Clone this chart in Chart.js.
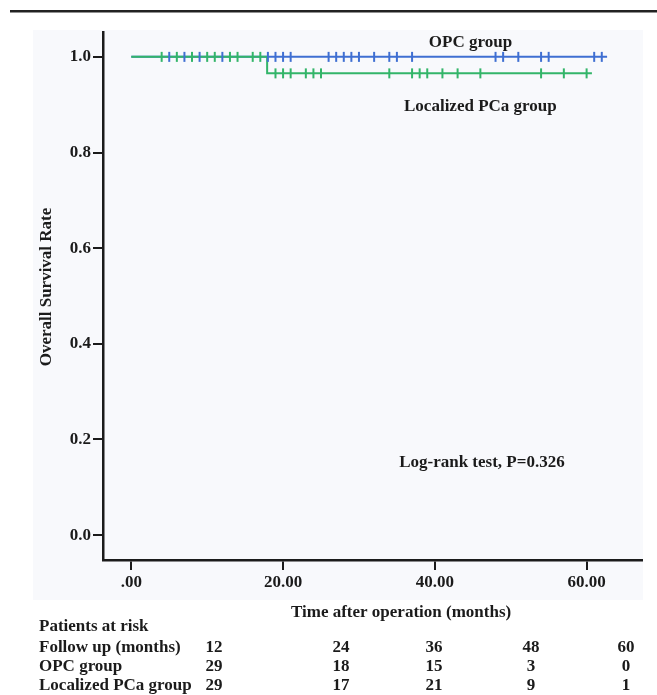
<!DOCTYPE html>
<html>
<head>
<meta charset="utf-8">
<script src="https://cdn.jsdelivr.net/npm/chart.js@4.4.1/dist/chart.umd.min.js"></script>
<style>
  html, body { margin: 0; padding: 0; background: #fff; }
  #wrap { width: 657px; height: 695px; position: relative; }
</style>
</head>
<body>
<div id="wrap"><canvas id="chart"></canvas></div>
<script>
// Kaplan-Meier steps: time after operation (months), survival rate
const opcCurve = [{ x: 0, y: 1 }, { x: 62.7, y: 1 }];
const localCurve = [{ x: 0, y: 1 }, { x: 17.9, y: 0.9655 }, { x: 60.7, y: 0.9655 }];

// censored follow-up times (months)
const opcCensored = [5, 7, 9, 12, 18, 19, 20, 21, 26, 27, 28, 29, 30, 32, 34, 35, 37, 48, 49, 51, 54, 55, 61, 62];
const localCensoredHigh = [4, 6, 8, 10, 11, 13, 14, 16, 17];
const localCensoredLow = [19, 20, 21, 23, 24, 25, 34, 37, 38, 39, 41, 43, 46, 54, 57, 60];

const xTicks = [0, 20, 40, 60];
const yTicks = [0, 0.2, 0.4, 0.6, 0.8, 1.0];

// patients at risk
const riskMonths = [12, 24, 36, 48, 60];
const riskOpc = [29, 18, 15, 3, 0];
const riskLocal = [29, 17, 21, 9, 1];

const FONT = '"Liberation Serif", "Times New Roman", serif';
const BLUE = '#3f6fd2';
const GREEN = '#33b569';
const INK = '#1b1b1b';

const censor = (times, level) => times.map(t => ({ x: t, y: level }));
const tickMark = (data, color) => ({
  data: data,
  pointStyle: 'line',
  rotation: 90,
  pointRadius: 5,
  pointHoverRadius: 5,
  borderColor: color,
  backgroundColor: color,
  borderWidth: 2,
  showLine: false,
  order: 1
});

const decor = {
  id: 'decor',
  beforeDraw(chart) {
    const c = chart.ctx;
    c.save();
    c.fillStyle = '#ffffff';
    c.fillRect(0, 0, chart.width, chart.height);
    c.fillStyle = '#f8f9fc';
    c.fillRect(33, 30, 610, 570);
    c.restore();
  },
  afterDraw(chart) {
    const c = chart.ctx;
    const xs = chart.scales.x, ys = chart.scales.y;
    const area = chart.chartArea;
    c.save();

    // rule across the top
    c.fillStyle = '#222';
    c.fillRect(10, 10, 647, 2.5);

    c.fillStyle = INK;
    c.font = 'bold 17px ' + FONT;
    c.textBaseline = 'middle';
    c.textAlign = 'center';

    c.fillText('OPC group', xs.getPixelForValue(44.7), ys.getPixelForValue(1.03));
    c.fillText('Localized PCa group', xs.getPixelForValue(46), ys.getPixelForValue(0.896));
    c.fillText('Log-rank test, P=0.326', xs.getPixelForValue(46.2), ys.getPixelForValue(0.151));

    // axis titles
    c.fillText('Time after operation (months)', area.left + area.width * 0.553, 613);
    c.save();
    c.translate(47, (area.top + area.bottom) / 2 - 9);
    c.rotate(-Math.PI / 2);
    c.fillText('Overall Survival Rate', 0, 0);
    c.restore();

    // risk table
    const rowY = [627, 648, 667, 686];
    const colX = [214, 341, 434, 531, 626];
    c.textAlign = 'left';
    c.fillText('Patients at risk', 39, rowY[0]);
    c.fillText('Follow up (months)', 39, rowY[1]);
    c.fillText('OPC group', 39, rowY[2]);
    c.fillText('Localized PCa group', 39, rowY[3]);
    c.textAlign = 'center';
    riskMonths.forEach((v, i) => c.fillText(String(v), colX[i], rowY[1]));
    riskOpc.forEach((v, i) => c.fillText(String(v), colX[i], rowY[2]));
    riskLocal.forEach((v, i) => c.fillText(String(v), colX[i], rowY[3]));
    c.restore();
  }
};

const ctx = document.getElementById('chart').getContext('2d');
new Chart(ctx, {
  type: 'scatter',
  data: {
    datasets: [
      { label: 'OPC group', data: opcCurve, showLine: true, stepped: 'before',
        borderColor: BLUE, borderWidth: 2, pointRadius: 0, order: 4 },
      { label: 'Localized PCa group', data: localCurve, showLine: true, stepped: 'before',
        borderColor: GREEN, borderWidth: 2, pointRadius: 0, order: 3 },
      tickMark(censor(opcCensored, 1), BLUE),
      tickMark(censor(localCensoredHigh, 1), GREEN),
      tickMark(censor(localCensoredLow, 0.9655), GREEN)
    ]
  },
  options: {
    responsive: true,
    maintainAspectRatio: false,
    animation: false,
    events: [],
    layout: { padding: { left: 0, right: 15, top: 32, bottom: 95 } },
    plugins: { legend: { display: false }, tooltip: { enabled: false } },
    scales: {
      x: {
        type: 'linear', min: -3.73, max: 67.3,
        afterBuildTicks: s => { s.ticks = xTicks.map(v => ({ value: v })); },
        afterFit: s => { s.height = 40; },
        grid: { drawOnChartArea: false, drawTicks: true, tickLength: 10, color: INK, lineWidth: 2 },
        border: { display: true, color: INK, width: 2.5 },
        ticks: {
          color: INK, padding: 2, maxRotation: 0, autoSkip: false,
          font: { family: FONT, size: 17, weight: 'bold' },
          callback: v => v === 0 ? '.00' : v.toFixed(2)
        }
      },
      y: {
        type: 'linear', min: -0.052, max: 1.052,
        afterBuildTicks: s => { s.ticks = yTicks.map(v => ({ value: v })); },
        afterFit: s => { s.width = 103; },
        grid: { drawOnChartArea: false, drawTicks: true, tickLength: 10, color: INK, lineWidth: 2 },
        border: { display: true, color: INK, width: 2.5 },
        ticks: {
          color: INK, padding: 2, autoSkip: false,
          font: { family: FONT, size: 17, weight: 'bold' },
          callback: v => v.toFixed(1)
        }
      }
    }
  },
  plugins: [decor]
});
</script>
</body>
</html>
